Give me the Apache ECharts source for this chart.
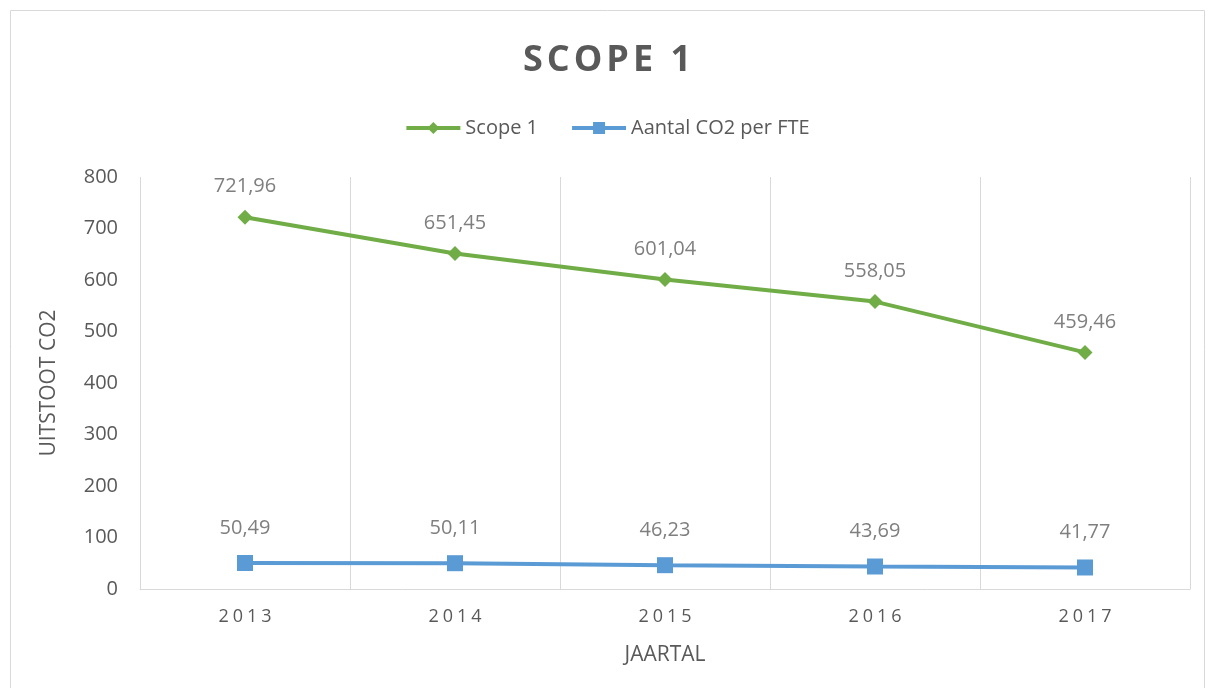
<!DOCTYPE html>
<html>
<head>
<meta charset="utf-8">
<script src="https://cdn.jsdelivr.net/npm/echarts@6/dist/echarts.min.js"></script>
<style>
  html, body { margin: 0; padding: 0; background: #fff; }
  #chart { width: 1214px; height: 688px; }
</style>
</head>
<body>
<div id="chart"></div>
<script>
// jaartallen en waarden
const years = ['2013', '2014', '2015', '2016', '2017']
const scope1 = [721.96, 651.45, 601.04, 558.05, 459.46]
const co2PerFte = [50.49, 50.11, 46.23, 43.69, 41.77]

const font = '"Open Sans", "Noto Sans", sans-serif'
const fmt = p => p.value.toFixed(2).replace('.', ',')
// letterspacing via rich tokens per teken
const spaced = (s, tag) => s.split('').map(c => '{' + tag + '|' + c + '}').join('')

const chart = echarts.init(document.getElementById('chart'))
const option = {
    backgroundColor: '#fff',
    textStyle: { fontFamily: font },
    graphic: [{
        type: 'rect',
        shape: { x: 10.5, y: 10.5, width: 1194, height: 690 },
        style: { fill: 'none', stroke: '#d9d9d9', lineWidth: 1 },
        silent: true
    }],
    title: {
        text: spaced('SCOPE 1', 't'),
        left: 'center',
        top: 38,
        textStyle: {
            rich: {
                t: { color: '#595959', fontSize: 36, fontWeight: 'bold', fontFamily: font, padding: [0, 2, 0, 2] }
            }
        }
    },
    legend: {
        top: 113,
        left: 'center',
        itemGap: 32,
        itemWidth: 54,
        itemHeight: 15,
        lineStyle: { width: 4 },
        textStyle: { color: '#595959', fontSize: 20 },
        data: ['Scope 1', 'Aantal CO2 per FTE']
    },
    grid: { left: 140, right: 24, top: 177, bottom: 99, containLabel: false },
    xAxis: {
        type: 'category',
        data: years,
        boundaryGap: true,
        name: 'JAARTAL',
        nameLocation: 'middle',
        nameGap: 56,
        nameTextStyle: { color: '#595959', fontSize: 21 },
        axisLine: { show: true, lineStyle: { color: '#d9d9d9', width: 1 } },
        axisTick: { show: false },
        axisLabel: {
            margin: 19,
            formatter: v => spaced(v, 'd'),
            rich: { d: { color: '#595959', fontSize: 18, fontFamily: font, padding: [0, 2, 0, 2] } }
        },
        splitLine: { show: true, lineStyle: { color: '#d9d9d9', width: 1 } }
    },
    yAxis: {
        type: 'value',
        min: 0,
        max: 800,
        interval: 100,
        name: 'UITSTOOT CO2',
        nameLocation: 'middle',
        nameGap: 80,
        nameRotate: 90,
        nameTextStyle: { color: '#595959', fontSize: 21 },
        axisLine: { show: false },
        axisTick: { show: false },
        axisLabel: { color: '#595959', fontSize: 20, margin: 22 },
        splitLine: { show: false }
    },
    series: [
        {
            name: 'Scope 1',
            type: 'line',
            data: scope1,
            symbol: 'diamond',
            symbolSize: 15,
            lineStyle: { color: '#70ad47', width: 4 },
            itemStyle: { color: '#70ad47' },
            label: { show: true, position: 'top', distance: 13, color: '#7f7f7f', fontSize: 20, formatter: fmt }
        },
        {
            name: 'Aantal CO2 per FTE',
            type: 'line',
            data: co2PerFte,
            symbol: 'rect',
            symbolSize: 16,
            lineStyle: { color: '#5b9bd5', width: 4 },
            itemStyle: { color: '#5b9bd5' },
            label: { show: true, position: 'top', distance: 17, color: '#7f7f7f', fontSize: 20, formatter: fmt }
        }
    ]
}
chart.setOption(option, true)
</script>
</body>
</html>
